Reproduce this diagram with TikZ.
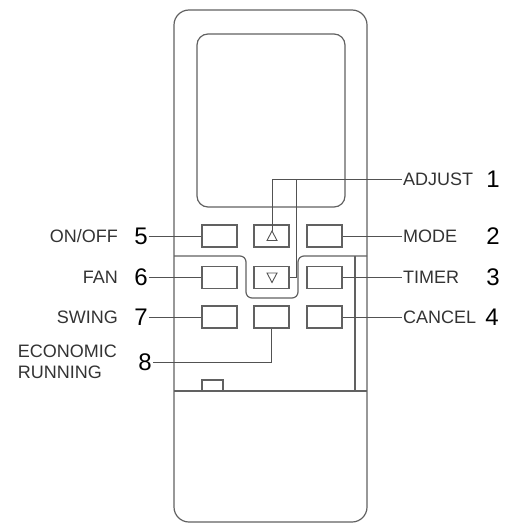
\documentclass[tikz,border=0pt]{standalone}
\usepackage{fontspec}
\setmainfont{Liberation Sans}
\usetikzlibrary{positioning}

\begin{document}
\begin{tikzpicture}[x=1pt, y=-1pt,
    outline/.style={draw=black!62, line width=1.2pt},
    wire/.style={draw=black!68, line width=0.9pt},
    key/.style={outline, rectangle, minimum width=35pt, minimum height=22pt, inner sep=0pt},
    lbl/.style={text=black!80, font=\fontsize{18}{21}\selectfont, inner sep=1pt},
    num/.style={text=black, font=\fontsize{24}{24}\selectfont, inner sep=1pt}]
    \useasboundingbox (0, 0) rectangle (504, 524);

    % case, screen and battery cover
    \draw[outline, rounded corners=15pt] (174, 10) rectangle (367, 522);
    \draw[outline, rounded corners=11pt] (197, 34) rectangle (345, 207);
    \draw[outline] (174, 391) -- (367, 391);
    \draw[outline] (202, 391) |- (223, 380) -- (223, 391);
    \draw[outline] (355, 256) -- (355, 391);
    \draw[outline, rounded corners=6pt] (174, 256) -- (246, 256) -- (246, 298) -- (298, 298) -- (298, 256) -- (367, 256);

    % keys
    \node[key] (onoff)  at (219.5, 236) {};
    \node[key] (up)     at (271.5, 236) {};
    \node[key] (mode)   at (324.5, 236) {};
    \node[key] (fan)    at (219.5, 277.5) {};
    \node[key] (down)   at (271.5, 277.5) {};
    \node[key] (timer)  at (324.5, 277.5) {};
    \node[key] (swing)  at (219.5, 317) {};
    \node[key] (econ)   at (271.5, 317) {};
    \node[key] (cancel) at (324.5, 317) {};

    \draw[wire] (267, 240.5) -- (277, 240.5) -- (272, 231) -- cycle;
    \draw[wire] (267, 273) -- (277, 273) -- (272, 282.5) -- cycle;

    % labels on the right
    \node[lbl, anchor=west] (adjustlbl) at (402, 179) {ADJUST};
    \node[num] (n1) at (493, 179) {1};
    \node[lbl, anchor=west] (modelbl) at (402, 236) {MODE};
    \node[num] (n2) at (493, 236) {2};
    \node[lbl, anchor=west] (timerlbl) at (402, 277.5) {TIMER};
    \node[num] (n3) at (493, 277.5) {3};
    \node[lbl, anchor=west] (cancellbl) at (402, 317) {CANCEL};
    \node[num] (n4) at (492, 317) {4};

    % labels on the left
    \node[num] (n5) at (141, 236) {5};
    \node[lbl, left=14pt of n5] (onofflbl) {ON/OFF};
    \node[num] (n6) at (141, 277.5) {6};
    \node[lbl, left=14pt of n6] (fanlbl) {FAN};
    \node[num] (n7) at (141, 317) {7};
    \node[lbl, left=14pt of n7] (swinglbl) {SWING};
    \node[num] (n8) at (145, 362) {8};
    \node[lbl, align=left, left=19pt of n8] (econlbl) {ECONOMIC\\RUNNING};

    % leader lines
    \coordinate (uptip) at (272, 231);
    \coordinate (adjknee) at (296, 179);
    \draw[wire] (uptip) |- (adjustlbl);
    \draw[wire] (adjknee) |- (down);
    \draw[wire] (mode) -- (modelbl);
    \draw[wire] (timer) -- (timerlbl);
    \draw[wire] (cancel) -- (cancellbl);
    \draw[wire] (n5) -- (onoff);
    \draw[wire] (n6) -- (fan);
    \draw[wire] (n7) -- (swing);
    \draw[wire] (econ) |- (n8);
\end{tikzpicture}
\end{document}
